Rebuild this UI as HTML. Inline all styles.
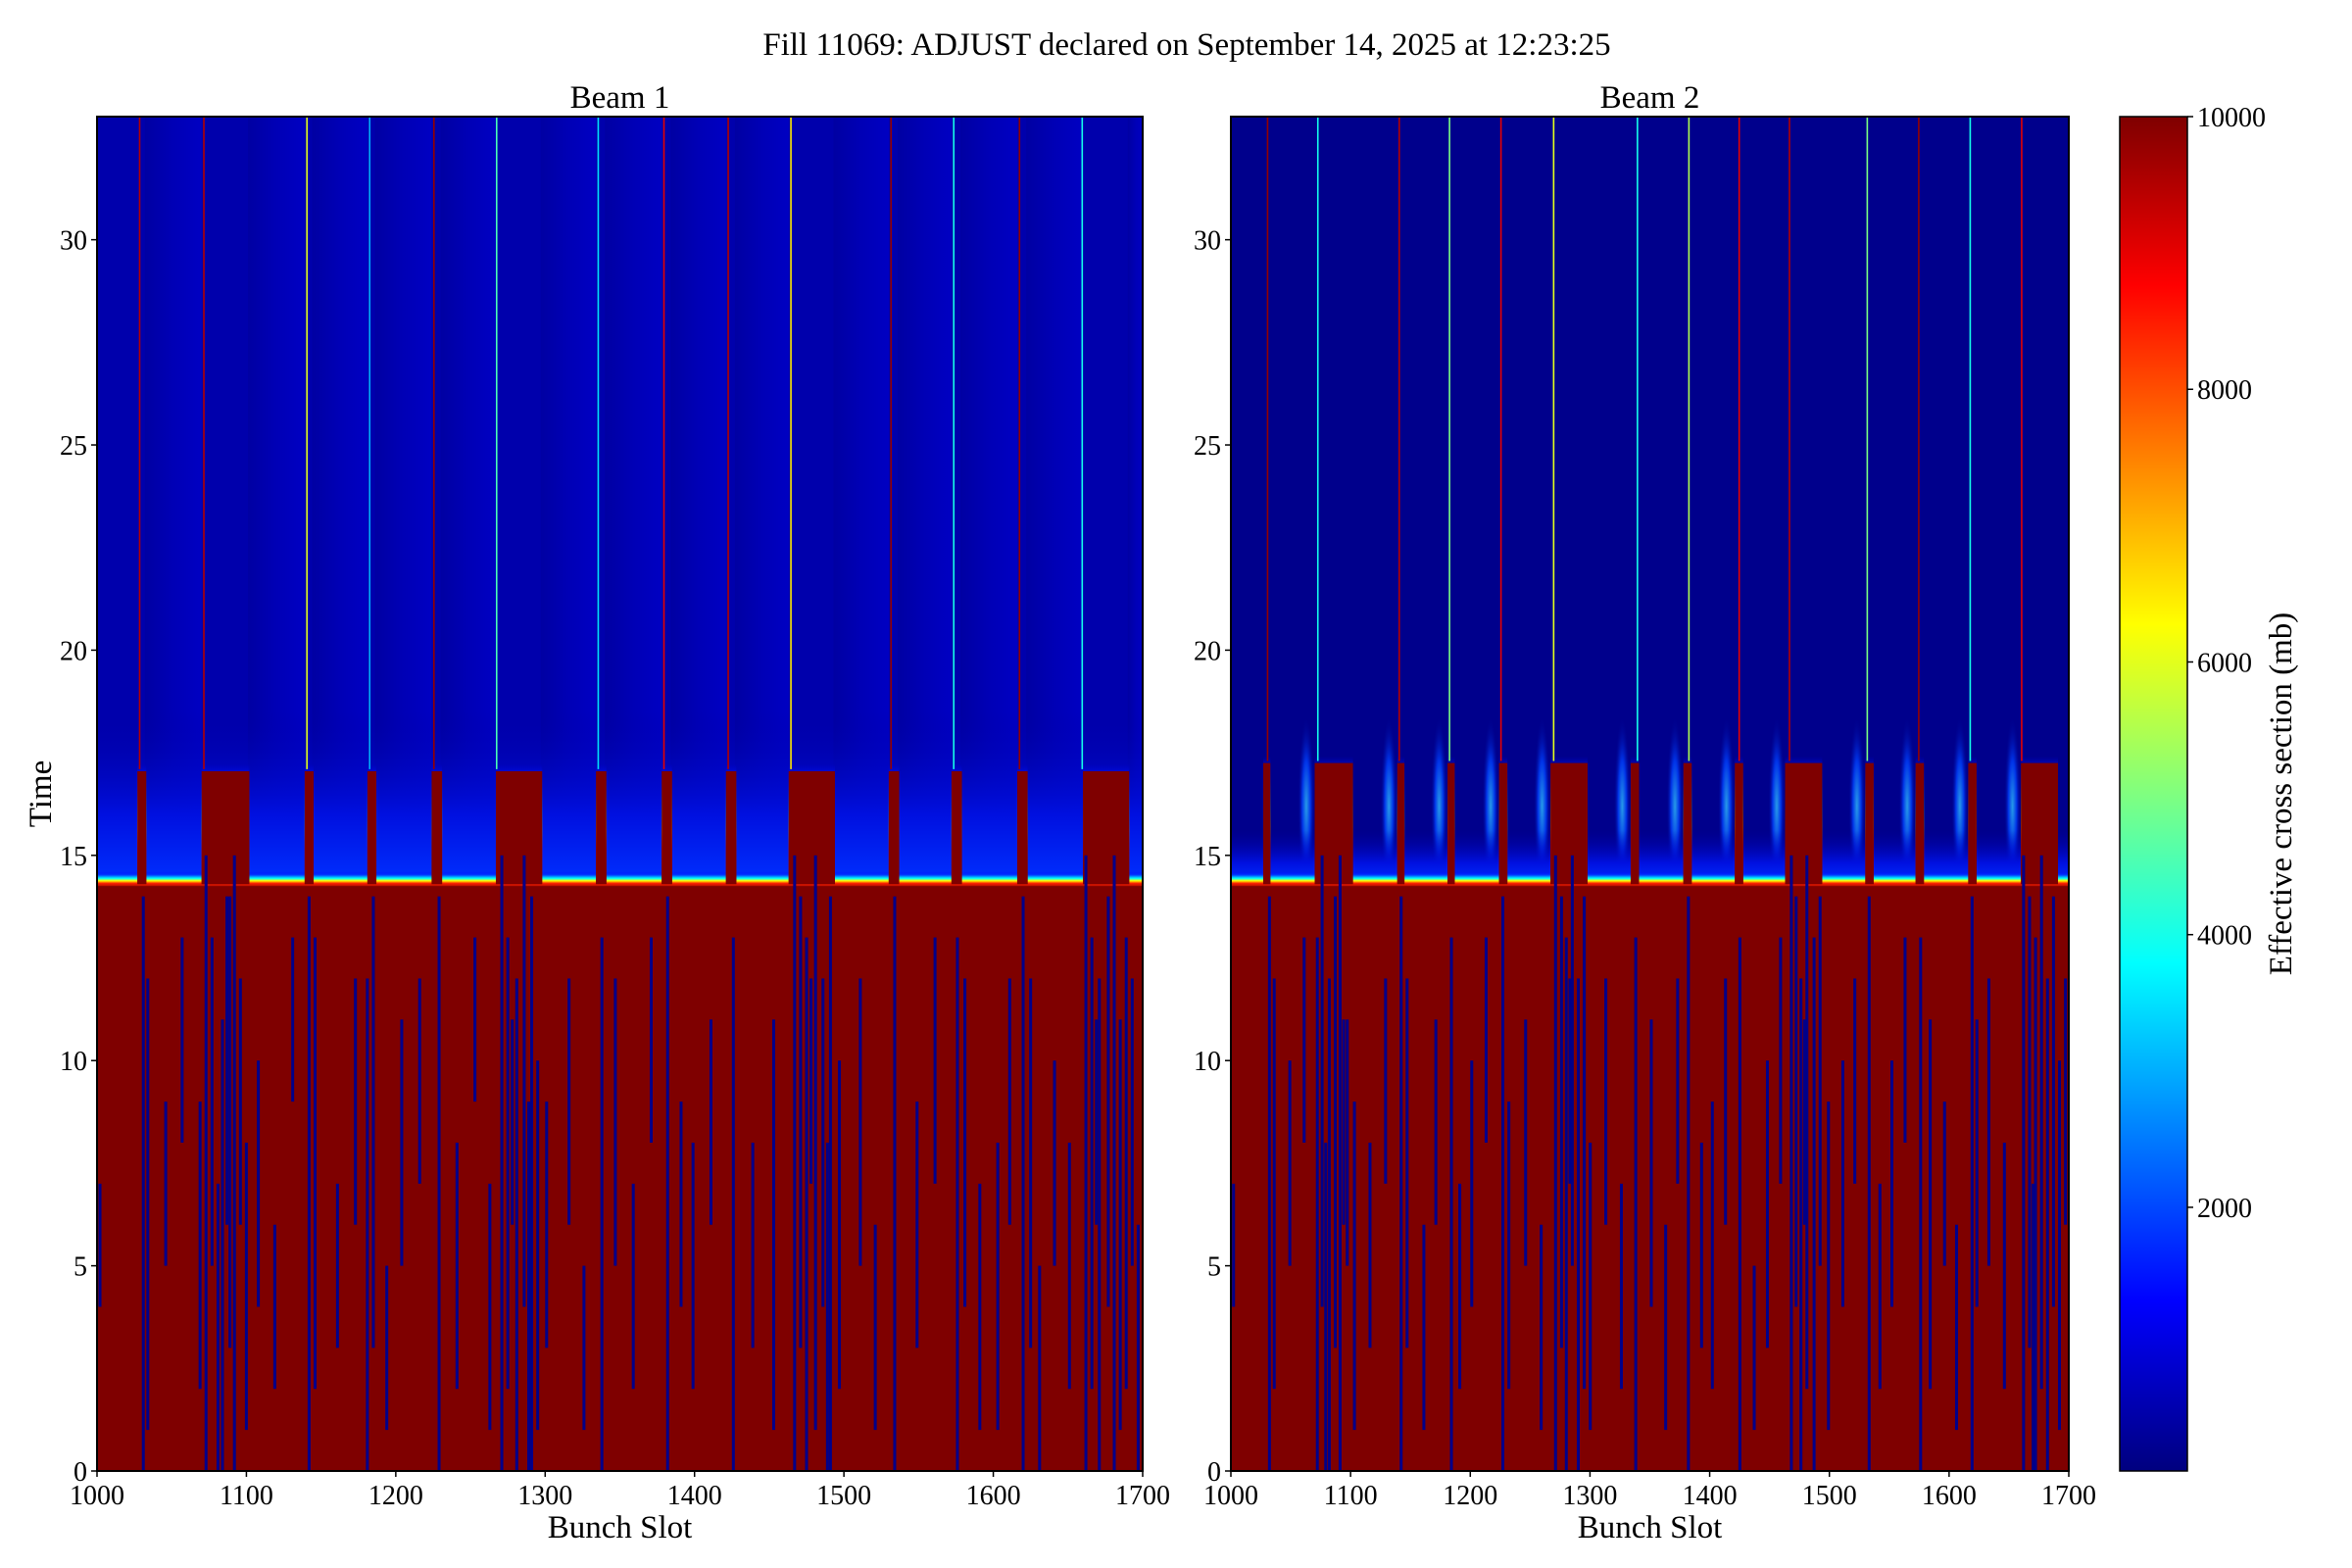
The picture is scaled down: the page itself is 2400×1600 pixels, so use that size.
<!DOCTYPE html>
<html><head><meta charset="utf-8">
<style>
html,body{margin:0;padding:0;background:#fff;}
svg{display:block;font-family:"Liberation Serif","DejaVu Serif",serif;}
</style></head>
<body>
<svg id="fig" width="2400" height="1600" viewBox="0 0 2400 1600" xmlns="http://www.w3.org/2000/svg">
<defs>
<linearGradient id="jet" x1="0" y1="1" x2="0" y2="0">
<stop offset="0" stop-color="#00007f"/><stop offset="0.125" stop-color="#0000ff"/>
<stop offset="0.375" stop-color="#00ffff"/><stop offset="0.625" stop-color="#ffff00"/>
<stop offset="0.875" stop-color="#ff0000"/><stop offset="1" stop-color="#7f0000"/>
</linearGradient>
<linearGradient id="edge" x1="0" y1="1" x2="0" y2="0">
<stop offset="0" stop-color="#7f0000"/><stop offset="0.3" stop-color="#ff2000"/><stop offset="0.45" stop-color="#ff0"/>
<stop offset="0.6" stop-color="#0ff"/><stop offset="0.8" stop-color="#0040ff"/><stop offset="1" stop-color="#0000ff" stop-opacity="0"/>
</linearGradient>
<linearGradient id="glow1" x1="0" y1="1" x2="0" y2="0">
<stop offset="0" stop-color="#0030ff"/><stop offset="0.4" stop-color="#0010e0"/><stop offset="1" stop-color="#0000a8" stop-opacity="0"/>
</linearGradient>
<linearGradient id="sky1" x1="0" y1="0" x2="1" y2="0">
<stop offset="0" stop-color="#0000a0"/><stop offset="0.5" stop-color="#0000b8"/><stop offset="1" stop-color="#0000c8"/>
</linearGradient>
<radialGradient id="glow2"><stop offset="0" stop-color="#30c0ff"/><stop offset="0.5" stop-color="#0040ff"/><stop offset="1" stop-color="#00008c" stop-opacity="0"/></radialGradient>
</defs>
<text x="1211" y="56" font-size="33" text-anchor="middle">Fill 11069: ADJUST declared on September 14, 2025 at 12:23:25</text>
<g id="p1"></g>
<g id="p2"></g>
<g id="cb"></g>
</svg>
<script>
const slotDomain=[1000,1700];
const timeDomain=[0,33];
const xTicks=[1000,1100,1200,1300,1400,1500,1600,1700];
const yTicks=[0,5,10,15,20,25,30];
const cbTicks=[2000,4000,6000,8000,10000];
const cbDomain=[66,10000];
const transitionTime=14.3;
// bunch trains [startSlot,endSlot]
const trains=[[1027,1032],[1070,1101],[1139,1144],[1181,1186],[1224,1230],[1267,1297],[1334,1340],[1378,1384],[1421,1427],[1463,1493],[1530,1536],[1572,1578],[1616,1622],[1660,1690]];
const trainTop1=17.1;
const trainTop2=17.3;
// vertical lines above the band [slot, value, tStart]
const lines1=[[1028,9500,14],[1071,9500,14],[1140,6000,14],[1182,3000,14],[1225,9800,14],[1267,4500,14],[1335,3500,14],[1379,9000,14],[1422,9500,14],[1464,6500,14],[1531,9800,14],[1573,4000,14],[1617,9800,14],[1659,4000,14]];
const lines2=[[1030,9800,14],[1072,4000,14],[1140,9500,14],[1182,5000,14],[1225,9000,14],[1269,6000,14],[1339,4000,14],[1382,5500,14],[1424,9000,14],[1466,9500,14],[1531,5000,14],[1574,9800,14],[1617,4000,14],[1660,9000,14]];
// dark streaks in high region [slot, tStart, tEnd]
const streaks1=[[1001,4,7],[1030,0,14],[1033,1,12],[1045,5,9],[1056,8,13],[1068,2,9],[1072,0,15],[1076,5,13],[1080,0,7],[1083,0,11],[1086,6,14],[1088,3,14],[1091,0,15],[1095,6,12],[1099,1,8],[1107,4,10],[1118,2,6],[1130,9,13],[1141,0,14],[1145,2,13],[1160,3,7],[1172,6,12],[1180,0,12],[1184,3,14],[1193,1,5],[1203,5,11],[1215,7,12],[1228,0,14],[1240,2,8],[1252,9,13],[1262,1,7],[1270,0,15],[1274,2,13],[1277,6,11],[1280,0,12],[1285,4,15],[1288,0,9],[1290,0,14],[1294,1,10],[1300,3,9],[1315,6,12],[1325,1,5],[1337,0,13],[1346,5,12],[1358,2,7],[1370,8,13],[1381,0,14],[1390,4,9],[1398,2,8],[1410,6,11],[1425,0,13],[1438,3,8],[1452,1,11],[1466,0,15],[1470,3,14],[1474,0,13],[1477,7,12],[1480,1,15],[1485,4,12],[1488,0,8],[1490,0,14],[1496,2,10],[1510,5,12],[1520,1,6],[1533,0,14],[1548,3,9],[1560,7,13],[1575,0,13],[1580,4,12],[1590,1,7],[1602,1,8],[1610,6,12],[1619,0,14],[1624,3,12],[1630,0,5],[1640,5,10],[1650,2,8],[1661,0,15],[1665,2,13],[1668,6,11],[1670,0,12],[1676,4,14],[1680,0,15],[1684,1,11],[1688,2,13],[1692,5,12],[1696,0,6]];
const streaks2=[[1001,4,7],[1031,0,14],[1035,2,12],[1048,5,10],[1060,8,13],[1071,0,13],[1075,4,15],[1078,0,8],[1081,0,12],[1086,3,14],[1090,0,15],[1093,6,11],[1096,5,11],[1102,1,9],[1115,3,8],[1128,7,12],[1141,0,14],[1146,3,12],[1160,1,6],[1170,6,11],[1183,0,13],[1190,2,7],[1200,4,10],[1212,8,13],[1226,0,14],[1231,2,9],[1245,5,11],[1258,1,6],[1270,0,15],[1275,3,14],[1279,0,13],[1282,7,12],[1284,5,15],[1289,0,12],[1294,2,14],[1299,1,8],[1312,6,12],[1325,2,7],[1337,0,13],[1350,4,11],[1362,1,6],[1372,7,12],[1381,0,14],[1392,3,8],[1401,2,9],[1412,6,12],[1424,0,13],[1436,1,5],[1447,3,10],[1458,7,13],[1467,0,15],[1471,4,14],[1475,0,12],[1478,6,11],[1480,2,15],[1486,0,13],[1491,5,14],[1498,1,9],[1510,4,10],[1520,7,12],[1532,0,14],[1541,2,7],[1551,4,10],[1562,8,13],[1575,0,13],[1583,2,11],[1595,5,9],[1605,1,6],[1618,0,14],[1622,4,11],[1632,5,12],[1645,2,8],[1661,0,15],[1666,3,14],[1669,0,7],[1671,0,13],[1676,2,15],[1681,0,12],[1686,4,14],[1691,1,10],[1696,6,12]];

const NS="http://www.w3.org/2000/svg";
function mk(parent,tag,attrs){const e=document.createElementNS(NS,tag);for(const k in attrs)e.setAttribute(k,attrs[k]);parent.appendChild(e);return e;}
function jet(v){const t=Math.max(0,Math.min(1,(v-cbDomain[0])/(cbDomain[1]-cbDomain[0])));
 const r=Math.max(0,Math.min(1,1.5-Math.abs(4*t-3))),g=Math.max(0,Math.min(1,1.5-Math.abs(4*t-2))),b=Math.max(0,Math.min(1,1.5-Math.abs(4*t-1)));
 return `rgb(${Math.round(r*255)},${Math.round(g*255)},${Math.round(b*255)})`;}

function panel(g,X0,X1,Y0,Y1,title,lines,streaks,top,beam){
 const sx=s=>X0+(s-slotDomain[0])/(slotDomain[1]-slotDomain[0])*(X1-X0);
 const sy=t=>Y1-(t-timeDomain[0])/(timeDomain[1]-timeDomain[0])*(Y1-Y0);
 const W=(X1-X0)/(slotDomain[1]-slotDomain[0]);
 let e;
 e=mk(g,'rect',{x:X0,y:Y0,width:X1-X0,height:Y1-Y0,fill:beam==1?'#0000ac':'#00008c'});
 
 if(beam==1){
  trains.forEach((tr,i)=>{ const nx=i+1<trains.length?trains[i+1][0]:slotDomain[1];
   e=mk(g,'rect',{x:sx(tr[1]),y:Y0,width:sx(nx)-sx(tr[1]),height:sy(15)-Y0,fill:'url(#sky1)',opacity:0.8});
   });
  e=mk(g,'rect',{x:X0,y:sy(18.5),width:X1-X0,height:sy(transitionTime)-sy(18.5),fill:'url(#glow1)'});
  
 } else {
  trains.forEach((tr,i)=>{ if(i==0)return; const gx=sx(tr[0])-W*7;
   e=mk(g,'ellipse',{cx:gx,cy:sy(16.2),rx:W*7,ry:sy(15)-sy(17.2),fill:'url(#glow2)',opacity:0.8});
   });
  e=mk(g,'rect',{x:X0,y:sy(15.6),width:X1-X0,height:sy(transitionTime)-sy(15.6),fill:'url(#glow1)'});
  
 }
 e=mk(g,'rect',{x:X0,y:sy(transitionTime+0.3),width:X1-X0,height:sy(transitionTime-0.1)-sy(transitionTime+0.3),fill:'url(#edge)'});
 
 e=mk(g,'rect',{x:X0,y:sy(transitionTime-0.05),width:X1-X0,height:sy(0)-sy(transitionTime-0.05),fill:'#7f0000'});
 
 trains.forEach(tr=>{
  e=mk(g,'rect',{x:sx(tr[0]),y:sy(top+0.12),width:(tr[1]-tr[0]+1)*W,height:sy(transitionTime)-sy(top+0.12),fill:'url(#edge)'});
  
  e=mk(g,'rect',{x:sx(tr[0]),y:sy(top-0.05),width:(tr[1]-tr[0]+1)*W,height:sy(transitionTime)-sy(top-0.05),fill:'#7f0000'});
  
 });
 lines.forEach(l=>{
  e=mk(g,'rect',{x:sx(l[0]),y:Y0,width:1.6,height:sy(top)-Y0,fill:jet(l[1])});
  
 });
 streaks.forEach(s=>{
  e=mk(g,'rect',{x:sx(s[0]),y:sy(s[2]),width:3,height:sy(s[1])-sy(s[2]),fill:'#00008a'});
  
 });
 e=mk(g,'rect',{x:X0,y:Y0,width:X1-X0,height:Y1-Y0,fill:'none',stroke:'#000','stroke-width':2});
 
 xTicks.forEach(v=>{const x=sx(v);
  e=mk(g,'line',{x1:x,y1:Y1,x2:x,y2:Y1+6,stroke:'#000','stroke-width':1.5});
  
  e=mk(g,'text',{x:x,y:Y1+34,'font-size':28,'text-anchor':'middle'});e.textContent=v;
  });
 yTicks.forEach(v=>{const y=sy(v);
  e=mk(g,'line',{x1:X0-6,y1:y,x2:X0,y2:y,stroke:'#000','stroke-width':1.5});
  
  e=mk(g,'text',{x:X0-10,y:y+10,'font-size':28,'text-anchor':'end'});e.textContent=v;
  });
 e=mk(g,'text',{x:(X0+X1)/2,y:Y0-9,'font-size':33,'text-anchor':'middle'});e.textContent=title;
 
 e=mk(g,'text',{x:(X0+X1)/2,y:Y1+68,'font-size':33,'text-anchor':'middle'});e.textContent='Bunch Slot';
 
}
panel(document.getElementById('p1'),99,1166,119,1501,'Beam 1',lines1,streaks1,trainTop1,1);
panel(document.getElementById('p2'),1256,2111,119,1501,'Beam 2',lines2,streaks2,trainTop2,2);
(function(){const g=document.getElementById('p1');
 const e=mk(g,'text',{x:0,y:0,'font-size':33,'text-anchor':'middle',transform:'translate(52,810) rotate(-90)'});e.textContent='Time';
 })();
(function(){const g=document.getElementById('cb');const X0=2163,X1=2232,Y0=119,Y1=1501;
 const cy=v=>Y1-(v-cbDomain[0])/(cbDomain[1]-cbDomain[0])*(Y1-Y0);
 let e=mk(g,'rect',{x:X0,y:Y0,width:X1-X0,height:Y1-Y0,fill:'url(#jet)',stroke:'#000','stroke-width':1.5});
 
 cbTicks.forEach(v=>{const y=cy(v);
  e=mk(g,'line',{x1:X1,y1:y,x2:X1+6,y2:y,stroke:'#000','stroke-width':1.5});
  
  e=mk(g,'text',{x:X1+10,y:y+10,'font-size':28});e.textContent=v;
  });
 e=mk(g,'text',{x:0,y:0,'font-size':33,'text-anchor':'middle',transform:'translate(2338,810) rotate(-90)'});e.textContent='Effective cross section (mb)';
 
})();
</script>
</body></html>
